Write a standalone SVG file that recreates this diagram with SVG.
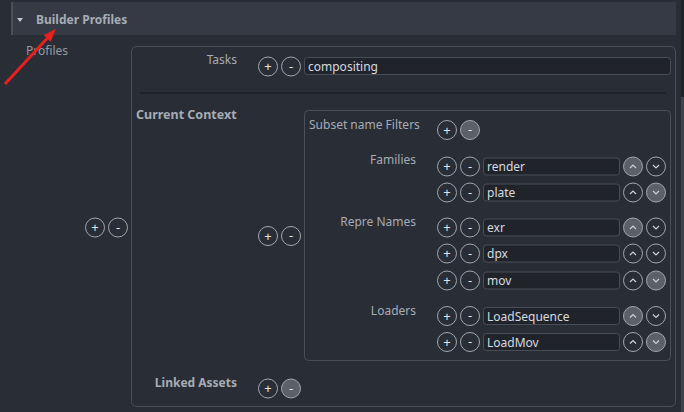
<svg xmlns="http://www.w3.org/2000/svg" xmlns:xlink="http://www.w3.org/1999/xlink" width="684" height="412" viewBox="0 0 684 412">
<style>
text{font-family:"Noto Sans","DejaVu Sans",sans-serif;font-size:12px}
.lbl{fill:#a6acb5}
.b{font-weight:bold}
.val{fill:#d6dae0}
.box{fill:none;stroke:#4a4f59;stroke-width:1}
.fld{fill:#20242a;stroke:#484d57;stroke-width:1}
.bc{fill:none;stroke:#a2a6ad;stroke-width:1}
.bf{fill:#5c6068;stroke:#a2a6ad;stroke-width:1}
.g{fill:#e2e4e8;font-size:13px;text-anchor:middle}
.ch{fill:none;stroke:#c9d2de;stroke-width:1.2}
</style>
<defs>
<g id="plus"><circle class="bc" r="9.5"/><text class="g" y="4.5">+</text></g>
<g id="minus"><circle class="bc" r="9.5"/><text class="g" y="4">-</text></g>
<g id="minusF"><circle class="bf" r="9.5"/><text class="g" y="4">-</text></g>
<g id="up"><circle class="bc" r="9.5"/><polyline class="ch" points="-3,1.5 0,-1.5 3,1.5"/></g>
<g id="upF"><circle class="bf" r="9.5"/><polyline class="ch" points="-3,1.5 0,-1.5 3,1.5"/></g>
<g id="down"><circle class="bc" r="9.5"/><polyline class="ch" points="-3,-1.5 0,1.5 3,-1.5"/></g>
<g id="downF"><circle class="bf" r="9.5"/><polyline class="ch" points="-3,-1.5 0,1.5 3,-1.5"/></g>
<marker id="ah" markerWidth="4.4" markerHeight="3.4" refX="0.2" refY="1.6" orient="auto" markerUnits="strokeWidth"><path d="M0,0 L4.4,1.6 L0,3.2 Z" fill="#e8201c"/></marker>
</defs>
<rect width="684" height="412" fill="#292d35"/>
<rect x="681" y="0" width="3" height="97" fill="#1f2227"/>
<rect x="681" y="97" width="3" height="315" fill="#3e434d"/>

<g id="header">
<rect x="11" y="2" width="665" height="33" fill="#353a45"/>
<rect x="11" y="2" width="2" height="33" fill="#4b5059"/>
<polygon points="17,18 23,18 20,22" fill="#c4c8ce"/>
<text class="lbl b" x="36" y="24" style="font-size:12px">Builder Profiles</text>
</g>

<g id="profiles">
<text class="lbl" x="26" y="55" style="fill:#959ba4">Profiles</text>
<rect class="box" x="131.5" y="46.5" width="544" height="360" rx="5"/>
<use xlink:href="#plus" x="95" y="227.5"/>
<use xlink:href="#minus" x="118" y="227.5"/>
</g>

<g id="tasks">
<text class="lbl" x="237" y="64" text-anchor="end">Tasks</text>
<use xlink:href="#plus" x="268" y="66.5"/>
<use xlink:href="#minus" x="291" y="66.5"/>
<rect class="fld" x="304.5" y="57.5" width="366" height="17" rx="3"/>
<text class="val" x="308" y="71">compositing</text>
<line x1="140" y1="93" x2="666" y2="93" stroke="#1f2228" stroke-width="2"/>
</g>

<g id="current-context">
<text class="lbl b" x="136" y="119" style="font-size:12.5px">Current Context</text>
<use xlink:href="#plus" x="268" y="236"/>
<use xlink:href="#minus" x="291" y="236"/>
<rect class="box" x="304.5" y="110.5" width="366" height="250" rx="4"/>
</g>

<g id="subset-filters">
<text class="lbl" x="309" y="129">Subset name Filters</text>
<use xlink:href="#plus" x="447" y="130"/>
<use xlink:href="#minusF" x="470" y="130"/>
</g>

<g id="families">
<text class="lbl" x="416" y="164" text-anchor="end">Families</text>
<use xlink:href="#plus" x="447" y="166.5"/><use xlink:href="#minus" x="470" y="166.5"/>
<rect class="fld" x="483.5" y="158" width="136" height="17" rx="3"/>
<text class="val" x="487" y="171">render</text>
<use xlink:href="#upF" x="633" y="166.5"/><use xlink:href="#down" x="656" y="166.5"/>
<use xlink:href="#plus" x="447" y="192.5"/><use xlink:href="#minus" x="470" y="192.5"/>
<rect class="fld" x="483.5" y="184" width="136" height="17" rx="3"/>
<text class="val" x="487" y="197">plate</text>
<use xlink:href="#up" x="633" y="192.5"/><use xlink:href="#downF" x="656" y="192.5"/>
</g>

<g id="repre-names">
<text class="lbl" x="416" y="226" text-anchor="end">Repre Names</text>
<use xlink:href="#plus" x="447" y="227.5"/><use xlink:href="#minus" x="470" y="227.5"/>
<rect class="fld" x="483.5" y="219" width="136" height="17" rx="3"/>
<text class="val" x="487" y="232">exr</text>
<use xlink:href="#upF" x="633" y="227.5"/><use xlink:href="#down" x="656" y="227.5"/>
<use xlink:href="#plus" x="447" y="253.5"/><use xlink:href="#minus" x="470" y="253.5"/>
<rect class="fld" x="483.5" y="245" width="136" height="17" rx="3"/>
<text class="val" x="487" y="258">dpx</text>
<use xlink:href="#up" x="633" y="253.5"/><use xlink:href="#down" x="656" y="253.5"/>
<use xlink:href="#plus" x="447" y="280.5"/><use xlink:href="#minus" x="470" y="280.5"/>
<rect class="fld" x="483.5" y="272" width="136" height="17" rx="3"/>
<text class="val" x="487" y="285">mov</text>
<use xlink:href="#up" x="633" y="280.5"/><use xlink:href="#downF" x="656" y="280.5"/>
</g>

<g id="loaders">
<text class="lbl" x="416" y="315" text-anchor="end">Loaders</text>
<use xlink:href="#plus" x="447" y="316"/><use xlink:href="#minus" x="470" y="316"/>
<rect class="fld" x="483.5" y="307.5" width="136" height="17" rx="3"/>
<text class="val" x="487" y="320.5">LoadSequence</text>
<use xlink:href="#upF" x="633" y="316"/><use xlink:href="#down" x="656" y="316"/>
<use xlink:href="#plus" x="447" y="342"/><use xlink:href="#minus" x="470" y="342"/>
<rect class="fld" x="483.5" y="333.5" width="136" height="17" rx="3"/>
<text class="val" x="487" y="346.5">LoadMov</text>
<use xlink:href="#up" x="633" y="342"/><use xlink:href="#downF" x="656" y="342"/>
</g>

<g id="linked-assets">
<text class="lbl b" x="237" y="387" text-anchor="end">Linked Assets</text>
<use xlink:href="#plus" x="268" y="388.5"/>
<use xlink:href="#minusF" x="291" y="388.5"/>
</g>

<g id="connectors">
<line x1="5" y1="84" x2="47.5" y2="38" stroke="#e8201c" stroke-width="3" marker-end="url(#ah)"/>
</g>
</svg>
